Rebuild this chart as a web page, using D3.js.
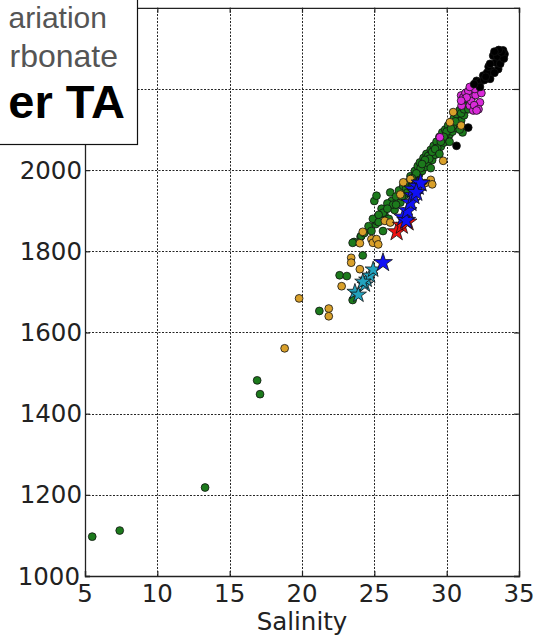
<!DOCTYPE html>
<html>
<head>
<meta charset="utf-8">
<script src="https://cdn.jsdelivr.net/npm/d3@7"></script>
<style>
  html, body { margin: 0; padding: 0; background: #fff; }
  svg { display: block; }
</style>
</head>
<body>
<svg id="chart" width="543" height="638"></svg>
<script>
// Total alkalinity vs. salinity, grouped by sample set
const xTicks = [5, 10, 15, 20, 25, 30, 35];
const yTicks = [1000, 1200, 1400, 1600, 1800, 2000, 2200];
const xLabel = "Salinity";
const boxLines = ["ariation", "rbonate", "er TA"];

// circles: [salinity, TA]
const greenPts = [
  [5.5,1097],[7.4,1112],[13.3,1218],[16.9,1482],[17.1,1448],[21.2,1653],
  [22.6,1741],[23.1,1739],[23.5,1680],[23.6,1823],[24.05,1836],[24.2,1790],
  [23.5,1821],[24.1,1838],[25.1,1867],[25.6,1850],[25.15,1875],[26.2,1924],
  [24.3,1845],[24.6,1862],[24.9,1880],[25.0,1924],[25.15,1937],[25.3,1872],
  [25.5,1905],[25.7,1890],[25.9,1918],[26.0,1880],[26.1,1945],[26.4,1902],
  [26.5,1935],[26.7,1950],[26.8,1920],[27.0,1961],[27.1,1938],[27.3,1970],
  [27.4,1948],[27.5,1985],[27.6,1960],[27.8,1998],[27.9,1975],[28.0,2010],
  [28.1,1990],[28.15,2019],[28.3,1998],[28.4,2030],[28.5,2008],[28.6,2040],
  [28.7,2018],[28.72,2035],[28.9,2050],[29.0,2025],[29.1,2060],[29.2,2038],
  [29.3,2070],[29.4,2048],[29.5,2082],[29.6,2058],[29.7,2093],[29.8,2068],
  [29.9,2100],[30.0,2078],[30.1,2110],[30.2,2088],[30.3,2118],[30.4,2095],
  [30.5,2128],[30.6,2105],[30.7,2138],[30.8,2112],[30.9,2148],[31.0,2122],
  [31.1,2160],[31.2,2135],[31.3,2168],[31.4,2175],[31.1,2093],
  [27.2,1955],[27.7,1975],[28.2,2005],[28.8,2028],[29.35,2055],[29.9,2085],
  [30.45,2110],[31.0,2140],[26.3,1915],[25.6,1895],[29.0,2045],[30.0,2095],
  [28.5,2025],[27.9,1992],
  [27.6,1980],[28.0,1970],[28.3,2015],[28.9,2005],[29.2,2052],[29.5,2040],
  [29.8,2082],[30.2,2070],[30.6,2120],[30.9,2100],[31.2,2150],[31.5,2150],
  [30.3,2102],[29.6,2070],[27.3,1945],[26.9,1935],[26.5,1915],[25.9,1905],
  [25.3,1890],[24.8,1850]
];
const orangePts = [
  [18.8,1561],[19.8,1684],[21.85,1659],[21.85,1640],[22.74,1714],[23.4,1784],
  [23.4,1772],[24.0,1820],[24.8,1830],[24.9,1821],[25.15,1830],[25.27,1817],
  [25.73,1875],[26.1,1871],[26.8,1940],[27.0,1970],[27.5,1978],[28.5,1968],
  [28.9,1976],[29.0,1965],[29.76,2023],[30.22,2118],[30.45,2143],[24.0,1756],
  [24.2,1848],[31.0,2110]
];
const magentaPts = [
  [29.53,2081],[31.0,2184],[31.15,2179],[31.6,2159],[31.84,2147],[31.84,2183],
  [32.07,2200],[32.3,2167],[31.03,2159],[31.3,2190],[31.5,2195],[31.7,2170],
  [32.0,2185],[31.9,2160],[32.2,2150],[32.07,2147],[32.4,2190],[31.38,2179],
  [31.0,2171],[31.95,2200],[31.6,2205]
];
const blackPts = [
  [30.68,2060],[31.49,2105],[32.07,2220],[32.3,2217],[32.53,2233],[33.0,2225],
  [33.22,2282],[33.56,2249],[33.79,2274],[34.0,2286],[33.9,2295],[33.4,2265],
  [33.1,2245],[32.8,2240],[32.6,2222],[32.9,2255],[33.3,2240],[33.7,2262],
  [33.5,2280],[33.95,2275],[32.3,2205],[31.9,2212],[33.8,2290],[33.6,2296],
  [33.3,2292],[32.7,2230],[33.0,2262]
];
// stars: [salinity, TA]
const cyanStars = [[23.66,1700],[23.9,1693],[24.35,1718],[24.47,1730],[24.7,1740],[24.92,1755],[24.2,1725]];
const redStars = [[26.54,1848],[26.9,1864],[27.3,1872]];
const blueStars = [[25.6,1772],[27.0,1884],[27.2,1876],[27.3,1900],[27.5,1920],[27.7,1937],[27.7,1953],[28.0,1960],[28.2,1968],[27.9,1945]];

const svg = d3.select("#chart");
const x = d3.scaleLinear().domain([5, 35]).range([85, 519]);
const y = d3.scaleLinear().domain([1000, 2400]).range([576, 7.8]);
const [x0, x1] = x.range();
const [y0, y1] = y.range();

// the text box covers the upper-left corner of the axes
const box = { w: 137.5, h: 144.5 };

svg.append("rect").attr("width", 543).attr("height", 638).attr("fill", "#fff");

// grid
const grid = svg.append("g").attr("stroke", "#000").attr("stroke-width", 1)
  .attr("stroke-dasharray", "2,1.5").attr("opacity", 0.85);
grid.selectAll(".vx").data(xTicks.filter(d => d > 5 && d < 35)).join("line")
  .attr("x1", d => Math.round(x(d)) + 0.5).attr("x2", d => Math.round(x(d)) + 0.5)
  .attr("y1", y0).attr("y2", y1);
grid.selectAll(".hy").data(yTicks.filter(d => d > 1000)).join("line")
  .attr("y1", d => Math.round(y(d)) + 0.5).attr("y2", d => Math.round(y(d)) + 0.5)
  .attr("x1", x0).attr("x2", x1);

// axes with inward ticks on all four sides
const tickLen = 5;
const axBottom = d3.axisBottom(x).tickValues(xTicks).tickSize(-tickLen).tickFormat("");
const axTop = d3.axisTop(x).tickValues(xTicks).tickSize(-tickLen).tickFormat("");
const axLeft = d3.axisLeft(y).tickValues(yTicks).tickSize(-tickLen).tickFormat("");
const axRight = d3.axisRight(y).tickValues(yTicks).tickSize(-tickLen).tickFormat("");
svg.append("g").attr("transform", `translate(0,${y0})`).call(axBottom);
svg.append("g").attr("transform", `translate(0,${y1})`).call(axTop);
svg.append("g").attr("transform", `translate(${x0},0)`).call(axLeft);
svg.append("g").attr("transform", `translate(${x1},0)`).call(axRight);
svg.selectAll(".domain").attr("stroke", "#222").attr("stroke-width", 1.3);
svg.selectAll(".tick line").attr("stroke", "#222").attr("stroke-width", 1.2);

// tick labels (those hidden under the text box are skipped)
const tf = "DejaVu Sans, sans-serif";
svg.append("g").selectAll("text").data(xTicks).join("text")
  .attr("x", d => x(d)).attr("y", 602)
  .attr("text-anchor", "middle").attr("font-family", tf).attr("font-size", 24.5)
  .attr("fill", "#222").text(d => d);
svg.append("g").selectAll("text").data(yTicks.filter(d => y(d) > box.h + 10)).join("text")
  .attr("x", d => d === 1000 ? 80 : 82).attr("y", d => y(d) + 8.5)
  .attr("text-anchor", "end").attr("font-family", tf).attr("font-size", 24.5)
  .attr("fill", "#222").text(d => d);
svg.append("text").attr("x", (x0 + x1) / 2).attr("y", 630)
  .attr("text-anchor", "middle").attr("font-family", tf).attr("font-size", 24.5)
  .attr("fill", "#222").text(xLabel);

// points
const plot = svg.append("g");
function dots(data, fill) {
  plot.append("g").selectAll("circle").data(data).join("circle")
    .attr("cx", d => x(d[0])).attr("cy", d => y(d[1])).attr("r", 3.9)
    .attr("fill", fill).attr("stroke", "#111").attr("stroke-width", 0.8);
}
function stars(data, fill, size) {
  const sym = d3.symbol().type(d3.symbolStar).size(size);
  plot.append("g").selectAll("path").data(data).join("path")
    .attr("transform", d => `translate(${x(d[0])},${y(d[1])})`)
    .attr("d", sym).attr("fill", fill).attr("stroke", "#111").attr("stroke-width", 0.8);
}
dots(greenPts, "#1c7a1c");
dots(orangePts, "#d9a02a");
dots(magentaPts, "#d92ad9");
dots(blackPts, "#000");
stars(cyanStars, "#23a3bf", 80);
stars(redStars, "#ee1111", 110);
stars(blueStars, "#1010f5", 110);

// text box in the upper-left corner
svg.append("rect").attr("x", -2).attr("y", -2).attr("width", box.w + 2).attr("height", box.h + 2)
  .attr("fill", "#fff").attr("stroke", "#111").attr("stroke-width", 1.2);
const bf = "Liberation Sans, Arial, sans-serif";
svg.append("text").attr("x", 107).attr("y", 28).attr("text-anchor", "end")
  .attr("font-family", bf).attr("font-size", 30).attr("fill", "#555").text(boxLines[0]);
svg.append("text").attr("x", 118).attr("y", 67).attr("text-anchor", "end")
  .attr("font-family", bf).attr("font-size", 32).attr("fill", "#555").text(boxLines[1]);
svg.append("text").attr("x", 125).attr("y", 118).attr("text-anchor", "end")
  .attr("font-family", bf).attr("font-size", 47).attr("font-weight", "bold")
  .attr("fill", "#000").text(boxLines[2]);
</script>
</body>
</html>
